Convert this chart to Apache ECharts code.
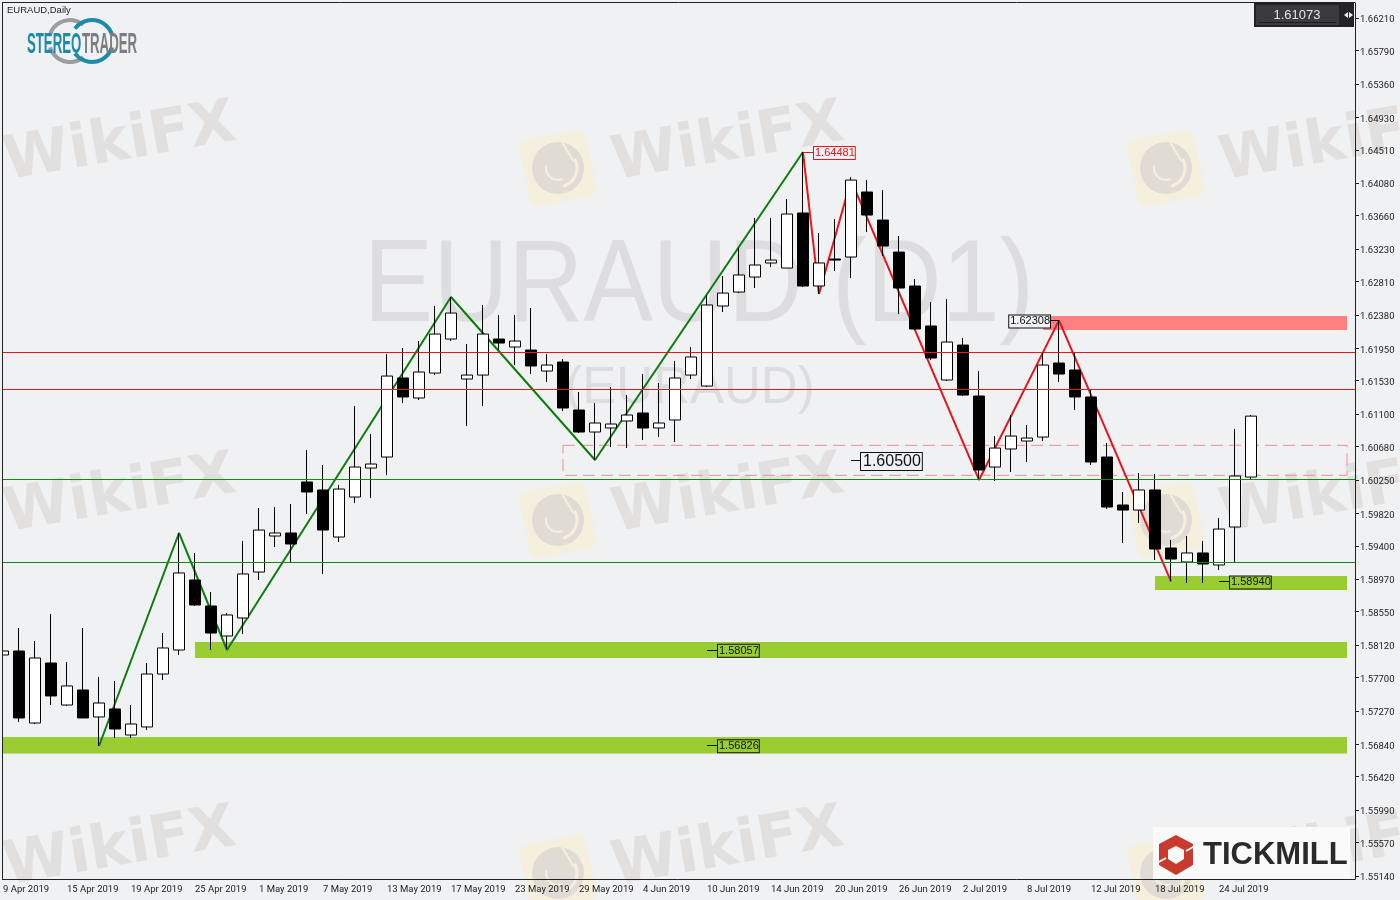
<!DOCTYPE html>
<html lang="en">

<head>
  <meta charset="UTF-8">
  <title>EURAUD Daily</title>
  <style>
    html, body { margin: 0; padding: 0; background: #f0f1f3; }
    .main { width: 1400px; height: 900px; }
  </style>
</head>

<body>
  <div class="main"></div>

  <script src="https://cdn.jsdelivr.net/npm/echarts@6/dist/echarts.min.js"></script>
  <script>
    // tick labels, as printed on the terminal's axes
    const dateLabels = ['9 Apr 2019', '15 Apr 2019', '19 Apr 2019', '25 Apr 2019', '1 May 2019', '7 May 2019', '13 May 2019',
      '17 May 2019', '23 May 2019', '29 May 2019', '4 Jun 2019', '10 Jun 2019', '14 Jun 2019', '20 Jun 2019',
      '26 Jun 2019', '2 Jul 2019', '8 Jul 2019', '12 Jul 2019', '18 Jul 2019', '24 Jul 2019']
    const priceTicks = [1.66210, 1.65790, 1.65360, 1.64930, 1.64510, 1.64080, 1.63660, 1.63230, 1.62810, 1.62380, 1.61950,
      1.61530, 1.61100, 1.60680, 1.60250, 1.59820, 1.59400, 1.58970, 1.58550, 1.58120, 1.57700, 1.57270, 1.56840,
      1.56420, 1.55990, 1.55570, 1.55140]

    // daily candles
    const opens = [1.57991, 1.58042, 1.57113, 1.57887, 1.57345, 1.57539, 1.57191, 1.57294, 1.56958, 1.57062,
      1.57745, 1.58055, 1.58958, 1.58623, 1.58236, 1.58468, 1.59061, 1.59526, 1.59565, 1.60223,
      1.60120, 1.59513, 1.60029, 1.60403, 1.60545, 1.61565, 1.61307, 1.61629, 1.62068, 1.61552,
      1.61603, 1.62068, 1.61965, 1.61926, 1.61655, 1.61771, 1.61152, 1.60868, 1.60920, 1.61010,
      1.61113, 1.60920, 1.61023, 1.61603, 1.61461, 1.62494, 1.62674, 1.62868, 1.63049, 1.62984,
      1.63694, 1.62752, 1.63100, 1.63126, 1.63965, 1.63603, 1.63190, 1.62752, 1.62236, 1.61539,
      1.61990, 1.61332, 1.60416, 1.60649, 1.60752, 1.60803, 1.61758, 1.61668, 1.61320, 1.60545,
      1.59926, 1.59861, 1.60120, 1.59371, 1.59191, 1.59307, 1.59152, 1.59642, 1.60287]
    const closes = [1.58042, 1.57178, 1.57952, 1.57462, 1.57591, 1.57178, 1.57371, 1.57036, 1.57100, 1.57745,
      1.58081, 1.59049, 1.58636, 1.58274, 1.58507, 1.59036, 1.59603, 1.59565, 1.59423, 1.60094,
      1.59603, 1.60132, 1.60416, 1.60455, 1.61590, 1.61320, 1.61642, 1.62132, 1.62403, 1.61603,
      1.62132, 1.62016, 1.62042, 1.61720, 1.61732, 1.61178, 1.60868, 1.60984, 1.60971, 1.61087,
      1.60920, 1.60984, 1.61565, 1.61836, 1.62507, 1.62661, 1.62894, 1.63023, 1.63087, 1.63681,
      1.62752, 1.63049, 1.63087, 1.64119, 1.63668, 1.63268, 1.62726, 1.62197, 1.61823, 1.62029,
      1.61345, 1.60378, 1.60661, 1.60816, 1.60790, 1.61732, 1.61616, 1.61320, 1.60481, 1.59900,
      1.59861, 1.60120, 1.59358, 1.59229, 1.59307, 1.59165, 1.59616, 1.60300, 1.61073]
    const lows = [1.57578, 1.57126, 1.57100, 1.57345, 1.57332, 1.57178, 1.56816, 1.56920, 1.56920, 1.57023,
      1.57668, 1.57991, 1.58623, 1.58055, 1.58068, 1.58261, 1.58958, 1.59384, 1.59191, 1.59810,
      1.59036, 1.59449, 1.59952, 1.60016, 1.60313, 1.61242, 1.61281, 1.61603, 1.62042, 1.60945,
      1.61203, 1.61926, 1.61732, 1.61616, 1.61513, 1.61139, 1.60855, 1.60507, 1.60674, 1.60661,
      1.60765, 1.60803, 1.60739, 1.61552, 1.61449, 1.62416, 1.62661, 1.62726, 1.62997, 1.62984,
      1.62739, 1.62649, 1.62945, 1.62855, 1.63448, 1.63139, 1.62390, 1.62184, 1.61797, 1.61526,
      1.61332, 1.60249, 1.60236, 1.60352, 1.60481, 1.60752, 1.61513, 1.61152, 1.60442, 1.59874,
      1.59436, 1.59694, 1.59216, 1.58940, 1.58920, 1.58920, 1.59087, 1.59191, 1.60261]
    const highs = [1.58236, 1.58339, 1.58171, 1.58520, 1.57900, 1.58339, 1.57707, 1.57655, 1.57345, 1.57887,
      1.58274, 1.59565, 1.59307, 1.58803, 1.58532, 1.59461, 1.59887, 1.59900, 1.59939, 1.60636,
      1.60442, 1.60184, 1.61203, 1.60842, 1.61874, 1.61952, 1.62042, 1.62494, 1.62610, 1.62003,
      1.62507, 1.62378, 1.62378, 1.62468, 1.61874, 1.61810, 1.61384, 1.61242, 1.61449, 1.61345,
      1.61616, 1.61500, 1.61784, 1.61965, 1.62636, 1.62881, 1.63242, 1.63629, 1.63629, 1.63874,
      1.64481, 1.63436, 1.63616, 1.64158, 1.64119, 1.63990, 1.63397, 1.62842, 1.62545, 1.62584,
      1.62081, 1.61655, 1.60816, 1.61087, 1.60958, 1.61887, 1.62308, 1.61887, 1.61423, 1.60726,
      1.60094, 1.60339, 1.60326, 1.59474, 1.59526, 1.59461, 1.59758, 1.60907, 1.61087]

    // zigzag turning points [candle index, price]
    const greenZigzag = [[6, 1.56816], [11, 1.59565], [14, 1.58055], [28, 1.62610], [37, 1.60507], [50, 1.64481]]
    const redZigzag = [[50, 1.64481], [51, 1.62649], [53, 1.64119], [61, 1.60249], [66, 1.62308], [73, 1.58940]]

    // horizontal levels
    const redLevels = [1.61900, 1.61423]
    const greenLevels = [1.60257, 1.59191]

    // zones [start candle, top, bottom]; start null = from the left edge
    const greenZones = [[null, 1.56932, 1.56719], [12, 1.58158, 1.57952], [72, 1.59010, 1.58829]]
    const redZones = [[65, 1.62365, 1.62184]]
    const dashedZones = [[35, 1.60696, 1.60309]]
    const zoneEnd = 84

    const axisFont = 'Roboto'
    const bg = '#f0f1f3'

    // 6 empty days on the right, as on the terminal
    const categories = []
    for (let i = 0; i < 85; i++) categories.push(dateLabels[i / 4] || '')

    const candles = opens.map((o, i) => [o, closes[i], lows[i], highs[i]])

    const tag = (idx, value, pos, dist, style) => ({
      coord: [idx, value],
      symbol: 'circle',
      symbolSize: 0,
      label: Object.assign({
        show: true,
        position: pos,
        distance: dist,
        offset: [0, 1],
        formatter: value.toFixed(5),
        fontFamily: 'Liberation Sans',
        fontSize: 11,
        color: '#111',
        borderWidth: 1,
        borderColor: '#111',
        padding: [1, 0, 0, 1],
        backgroundColor: '#9acd32'
      }, style)
    })

    const leader = (a, b, value, color) => [
      { coord: [a, value], lineStyle: { color: color, width: 1, type: 'solid' } },
      { coord: [b, value] }
    ]

    const levelSeries = (name, values, color) => ({
      name: name, type: 'line', data: [], z: 1, silent: true,
      markLine: {
        silent: true, symbol: 'none', animation: false, precision: 5, label: { show: false },
        lineStyle: { color: color, width: 1, type: 'solid', opacity: 1 },
        data: values.map(v => ({ yAxis: v }))
      }
    })

    // watermark, repeated over the whole picture
    const wiki = []
    const wikiRows = [144, 496, 849]
    const wikiCols = [120, 728, 1336]
    const tile = '#f4f0dd'
    const eagle = '#e0dcd5'
    wikiRows.forEach(y => wikiCols.forEach(x => {
      wiki.push({
        type: 'text', x: x, y: y, rotation: 0.17, z: -10,
        style: { text: 'WikiFX', font: 'bold 60px "DejaVu Sans"', fill: '#e2dfdf', align: 'center', verticalAlign: 'middle' }
      })
      if (x > 200) {
        const cx = x - 170
        const cy = y + 24
        wiki.push({
          type: 'rect', x: cx, y: cy, rotation: 0.2, z: -10,
          shape: { x: -34, y: -34, width: 68, height: 68, r: 8 },
          style: { fill: tile }
        })
        wiki.push({ type: 'circle', x: cx, y: cy, z: -9, shape: { r: 26 }, style: { fill: eagle } })
        wiki.push({ type: 'arc', x: cx, y: cy, z: -8, shape: { r: 19, startAngle: -0.5, endAngle: 1.3 }, style: { stroke: tile, lineWidth: 3, fill: 'none' } })
        wiki.push({ type: 'arc', x: cx, y: cy, z: -8, shape: { r: 12, startAngle: 1.2, endAngle: 3.4 }, style: { stroke: tile, lineWidth: 2, fill: 'none' } })
        wiki.push({ type: 'line', x: cx, y: cy, z: -8, shape: { x1: 4, y1: -26, x2: 16, y2: -6 }, style: { stroke: tile, lineWidth: 2 } })
      }
    }))

    var myChart = echarts.init(document.querySelector('.main'));
    var option = {
      backgroundColor: bg,
      animation: false,
      grid: { left: -5, top: 3, width: 1360, height: 876, outerBoundsMode: 'none' },
      xAxis: {
        type: 'category',
        data: categories,
        axisLine: { lineStyle: { color: '#222', width: 1 } },
        axisTick: { alignWithLabel: true, interval: 3, length: 3, lineStyle: { color: '#222' } },
        axisLabel: {
          interval: 3, align: 'left', margin: 6, hideOverlap: false,
          fontFamily: axisFont, fontSize: 9.5, color: '#222'
        },
        splitLine: { show: false }
      },
      yAxis: {
        type: 'value',
        position: 'right',
        min: 1.55100,
        max: 1.66404,
        axisLine: { show: true, lineStyle: { color: '#222', width: 1 } },
        axisTick: { show: true, length: 4, customValues: priceTicks, lineStyle: { color: '#222' } },
        axisLabel: {
          customValues: priceTicks, margin: 5,
          // rich token: plain labels sit 2px above their tick
          formatter: v => '{p|' + v.toFixed(5) + '}',
          rich: { p: { fontFamily: axisFont, fontSize: 9.5, color: '#222', padding: [4, 0, 0, 0] } }
        },
        splitLine: { show: false }
      },
      series: [
        levelSeries('red levels', redLevels, '#e5191c'),
        levelSeries('green levels', greenLevels, '#118a11'),
        {
          name: 'zones', type: 'line', data: [], z: 1, silent: true,
          markArea: {
            silent: true, animation: false,
            data: greenZones.map(z => [
              z[0] === null ? { yAxis: z[1], itemStyle: { color: '#9acd32' } } : { xAxis: z[0], yAxis: z[1], itemStyle: { color: '#9acd32' } },
              { xAxis: zoneEnd, yAxis: z[2] }
            ]).concat(redZones.map(z => [
              { xAxis: z[0], yAxis: z[1], itemStyle: { color: '#ff8080' } },
              { xAxis: zoneEnd, yAxis: z[2] }
            ])).concat(dashedZones.map(z => [
              { xAxis: z[0], yAxis: z[1], itemStyle: { color: 'rgba(0,0,0,0)', borderColor: '#ef8f92', borderWidth: 1, borderType: [12, 6] } },
              { xAxis: zoneEnd, yAxis: z[2] }
            ]))
          }
        },
        {
          name: 'green zigzag', type: 'line', data: greenZigzag, z: 2, silent: true,
          symbol: 'none', lineStyle: { color: '#0a7d0a', width: 2 }
        },
        {
          name: 'red zigzag', type: 'line', data: redZigzag, z: 2, silent: true,
          symbol: 'none', lineStyle: { color: '#e8141c', width: 2 }
        },
        {
          name: 'EURAUD', type: 'candlestick', data: candles, z: 3, silent: true,
          barWidth: 11,
          itemStyle: { color: '#fff', color0: '#000', borderColor: '#000', borderColor0: '#000', borderWidth: 1 }
        },
        {
          name: 'tags', type: 'line', data: [], z: 4, silent: true,
          markLine: {
            silent: true, symbol: 'none', animation: false, precision: 5, label: { show: false },
            data: [
              leader(44, 45, 1.58057, '#111'),
              leader(44, 45, 1.56826, '#111'),
              leader(76, 77, 1.58940, '#111'),
              leader(50, 51, 1.64481, '#e8141c'),
              leader(65, 66, 1.62308, '#111'),
              leader(53, 54, 1.60500, '#111')
            ]
          },
          markPoint: {
            silent: true, animation: false,
            data: [
              tag(44, 1.58057, 'right', 11, {}),
              tag(44, 1.56826, 'right', 11, {}),
              tag(76, 1.58940, 'right', 11, {}),
              tag(66, 1.62308, 'left', 9, { backgroundColor: bg }),
              tag(50, 1.64481, 'right', 11, { backgroundColor: bg, color: '#e8141c', borderColor: '#e8141c' }),
              tag(53, 1.60500, 'right', 10, { backgroundColor: bg, fontSize: 16, padding: [1, 1, 0, 2] })
            ]
          }
        }
      ],
      graphic: {
        elements: wiki.concat([
          // big symbol caption behind the candles
          {
            type: 'text', x: 699, y: 289, scaleY: 1.12, z: -8,
            style: { text: 'EURAUD (D1)', font: '104px "Liberation Sans"', fill: '#dddddf', align: 'center', verticalAlign: 'middle' }
          },
          {
            type: 'text', x: 690, y: 389, z: -8,
            style: { text: '(EURAUD)', font: '51px "Liberation Sans"', fill: '#dddddf', align: 'center', verticalAlign: 'middle' }
          },
          // frame: left and top, plus a strip hiding the clipped first candle
          { type: 'rect', z: 50, shape: { x: 0, y: 0, width: 2, height: 900 }, style: { fill: bg } },
          { type: 'rect', z: 50, shape: { x: 0, y: 0, width: 1400, height: 2 }, style: { fill: bg } },
          { type: 'line', z: 51, shape: { x1: 2.5, y1: 2, x2: 2.5, y2: 880 }, style: { stroke: '#222', lineWidth: 1 } },
          { type: 'line', z: 51, shape: { x1: 2, y1: 2.5, x2: 1355, y2: 2.5 }, style: { stroke: '#222', lineWidth: 1 } },
          // symbol caption
          { type: 'text', z: 52, x: 7, y: 5, style: { text: 'EURAUD,Daily', font: '9.5px "Liberation Sans"', fill: '#222' } },
          // STEREOTRADER logo
          { type: 'arc', z: 52, shape: { cx: 70, cy: 41, r: 21, startAngle: Math.PI * 1.1, endAngle: Math.PI * 1.72 }, style: { stroke: '#9b9d9f', lineWidth: 4, fill: 'none' } },
          { type: 'arc', z: 52, shape: { cx: 70, cy: 41, r: 21, startAngle: Math.PI * 0.28, endAngle: Math.PI * 0.9 }, style: { stroke: '#9b9d9f', lineWidth: 4, fill: 'none' } },
          { type: 'arc', z: 52, shape: { cx: 92, cy: 41, r: 21, startAngle: Math.PI * 1.2, endAngle: Math.PI * 1.9 }, style: { stroke: '#1f89a8', lineWidth: 4, fill: 'none' } },
          { type: 'arc', z: 52, shape: { cx: 92, cy: 41, r: 21, startAngle: Math.PI * 0.1, endAngle: Math.PI * 0.8 }, style: { stroke: '#1f89a8', lineWidth: 4, fill: 'none' } },
          { type: 'text', z: 53, x: 27, y: 30, scaleX: 0.44, style: { text: 'STEREO', font: 'bold 30px "Liberation Sans"', fill: '#1f89a8' } },
          { type: 'text', z: 53, x: 82, y: 30, scaleX: 0.44, style: { text: 'TRADER', font: 'bold 30px "Liberation Sans"', fill: '#7b7e81' } },
          // current price box
          { type: 'rect', z: 52, shape: { x: 1254, y: 3, width: 100, height: 24 }, style: { fill: '#232325' } },
          { type: 'rect', z: 53, shape: { x: 1256, y: 5, width: 83, height: 20 }, style: { fill: '#3b3b3e' } },
          { type: 'line', z: 54, shape: { x1: 1259, y1: 22.5, x2: 1336, y2: 22.5 }, style: { stroke: '#1c1c1e', lineWidth: 1 } },
          { type: 'text', z: 54, x: 1297, y: 15, style: { text: '1.61073', font: '13px "Liberation Sans"', fill: '#e4e4e4', align: 'center', verticalAlign: 'middle' } },
          { type: 'polygon', z: 54, shape: { points: [[1344, 15], [1348, 12], [1348, 18]] }, style: { fill: '#eee' } },
          { type: 'polygon', z: 54, shape: { points: [[1353, 15], [1349, 12], [1349, 18]] }, style: { fill: '#eee' } },
          // TICKMILL logo
          { type: 'rect', z: 52, shape: { x: 1153, y: 827, width: 197, height: 52 }, style: { fill: '#fafafa' } },
          { type: 'polygon', z: 53, shape: { points: [[1176, 835], [1193, 844], [1193, 865], [1176, 875], [1159, 865], [1159, 844]] }, style: { fill: '#c83a2e' } },
          { type: 'polygon', z: 54, shape: { points: [[1176, 846], [1184, 850], [1184, 859], [1176, 864], [1168, 859], [1168, 850]] }, style: { fill: '#fafafa' } },
          { type: 'line', z: 54, shape: { x1: 1186, y1: 851, x2: 1195, y2: 846 }, style: { stroke: '#fafafa', lineWidth: 2 } },
          { type: 'line', z: 54, shape: { x1: 1166, y1: 858, x2: 1157, y2: 863 }, style: { stroke: '#fafafa', lineWidth: 2 } },
          { type: 'text', z: 54, x: 1203, y: 855, style: { text: 'TICKMILL', font: 'bold 31px "Liberation Sans"', fill: '#2a2a2a', verticalAlign: 'middle' } }
        ])
      }
    };

    myChart.setOption(option);
  </script>
</body>

</html>
